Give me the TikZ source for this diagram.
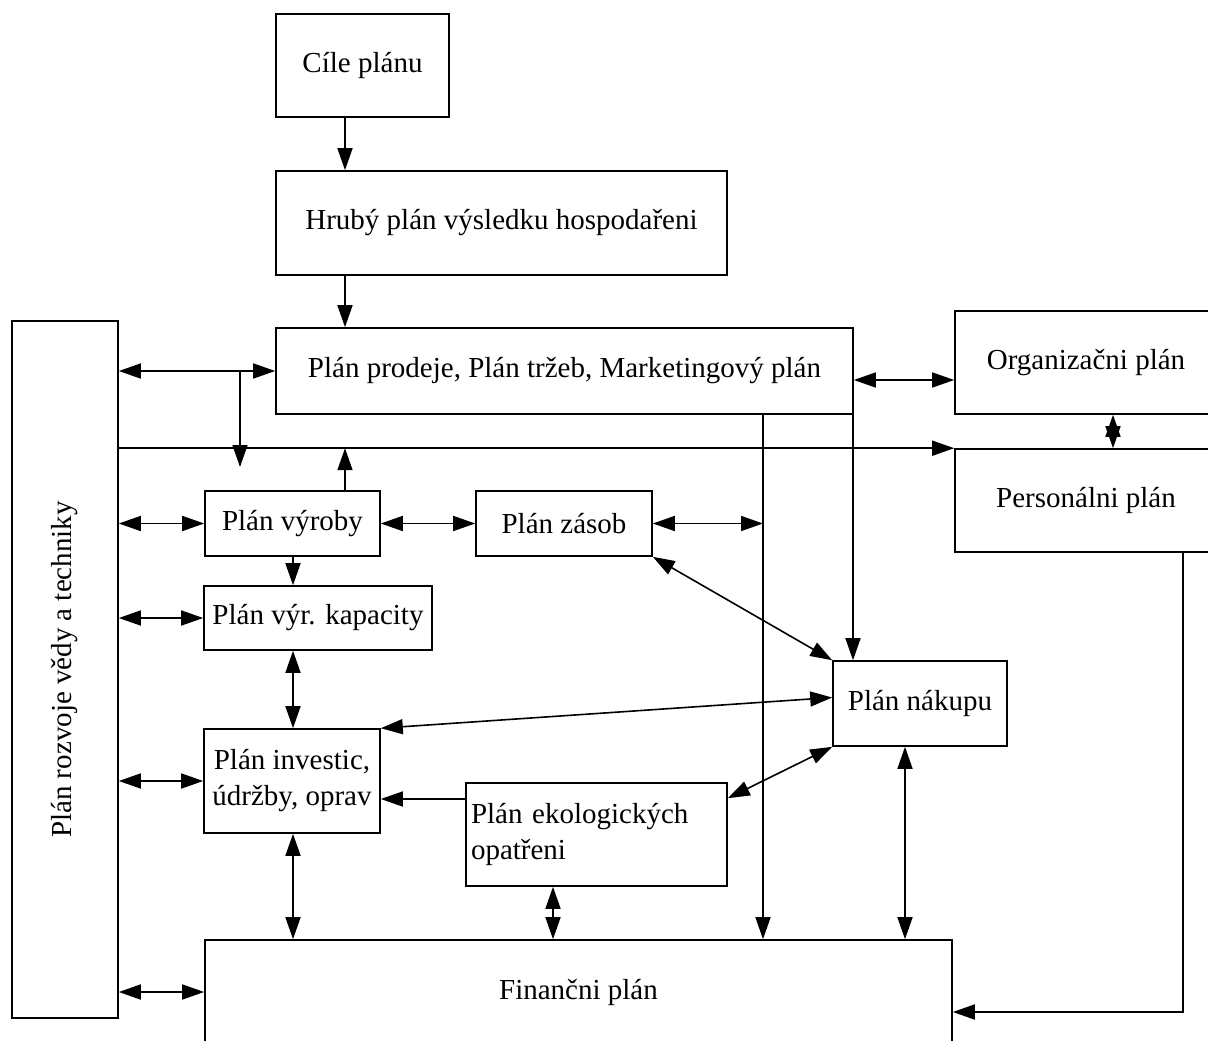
\documentclass[tikz,border=0pt]{standalone}
\usepackage{fontspec}
\setmainfont{Liberation Serif}
\usetikzlibrary{arrows.meta,calc}
\begin{document}
\begin{tikzpicture}[x=1pt,y=-1pt,
  box/.style={draw,line width=1.6pt,rectangle,inner sep=0pt,font=\fontsize{29}{36}\selectfont,align=center},
  conn/.style={line width=1.6pt},
  >={Triangle[length=22pt,width=15pt]}]
\fill[white] (0,0) rectangle (1208,1041);
\useasboundingbox (0,0) rectangle (1208,1041);
% nodes
\node[box,minimum width=173pt,minimum height=103pt] (cile) at (362.5,65.5) {Cíle plánu};
\node[box,minimum width=451pt,minimum height=104pt] (hruby) at (501.5,223) {Hrubý plán výsledku hospodařeni};
\node[box,minimum width=577pt,minimum height=86pt] (prodej) at (564.5,371) {Plán prodeje, Plán tržeb, Marketingový plán};
\node[box,minimum width=106pt,minimum height=697pt] (rozvoj) at (65,669.5) {};
\node[font=\fontsize{29}{36}\selectfont,rotate=90] (rozvojt) at (rozvoj.center) {Plán rozvoje vědy a techniky};
\node[box,minimum width=262pt,minimum height=103pt] (org) at (1086,362.5) {Organizačni plán};
\node[box,minimum width=262pt,minimum height=103pt] (pers) at (1086,500.5) {Personálni plán};
\node[box,minimum width=175pt,minimum height=65pt] (vyroby) at (292.5,523.5) {Plán výroby};
\node[box,minimum width=228pt,minimum height=64pt] (kap) at (318,618) {Plán výr. kapacity};
\node[box,minimum width=176pt,minimum height=104pt] (inv) at (292,781) {Plán investic,\\údržby, oprav};
\node[box,minimum width=176pt,minimum height=65pt] (zasob) at (564,523.5) {Plán zásob};
\node[box,minimum width=174pt,minimum height=85pt] (nakup) at (920,703.5) {Plán nákupu};
\node[box,minimum width=261pt,minimum height=103pt,text width=251pt,align=left] (eko) at (596.5,834.5) {Plán ekologických\\opatřeni};
\node[box,minimum width=747pt,minimum height=104pt] (fin) at (578.5,992) {Finančni plán};
% helper coordinates
\coordinate (xA) at (345,0);
\coordinate (xB) at (240,0);
\coordinate (xC) at (293,0);
\coordinate (xD) at (763,0);
\coordinate (xE) at (853,0);
\coordinate (xF) at (553,0);
\coordinate (xG) at (905,0);
\coordinate (xH) at (1113,0);
\coordinate (xI) at (1183,0);
\coordinate (yQ) at (0,380);
\coordinate (yR) at (0,799);
\coordinate (yS) at (0,1012);
\coordinate (bt) at (240,467);
\coordinate (ekoin) at ($(eko.north east)+(0,16)$);
% connectors
\draw[conn,->] (cile.south -| xA) -- (hruby.north -| xA);
\draw[conn,->] (hruby.south -| xA) -- (prodej.north -| xA);
\draw[conn,<->] (rozvoj.east |- prodej.west) -- (prodej.west);
\draw[conn,->] (xB |- prodej.west) -- (bt);
\draw[conn,->] (rozvoj.east |- pers.north west) -- (pers.north west);
\draw[conn,->] (vyroby.north -| xA) -- (xA |- pers.north west);
\draw[conn,<->] (prodej.east |- yQ) -- (org.west |- yQ);
\draw[conn,<->] (org.south -| xH) -- (pers.north -| xH);
\draw[conn,<->] (rozvoj.east |- vyroby.west) -- (vyroby.west);
\draw[conn,<->] (rozvoj.east |- kap.west) -- (kap.west);
\draw[conn,<->] (rozvoj.east |- inv.west) -- (inv.west);
\draw[conn,<->] (rozvoj.east |- fin.west) -- (fin.west);
\draw[conn,<->] (vyroby.east) -- (zasob.west);
\draw[conn,->] (vyroby.south -| xC) -- (kap.north -| xC);
\draw[conn,<->] (kap.south -| xC) -- (inv.north -| xC);
\draw[conn,<->] (inv.south -| xC) -- (fin.north -| xC);
\draw[conn,->] (prodej.south -| xD) -- (fin.north -| xD);
\draw[conn,<->] (zasob.east) -- (zasob.east -| xD);
\draw[conn,->] (prodej.south -| xE) -- (nakup.north -| xE);
\draw[conn,<->] (zasob.south east) -- (nakup.north west);
\draw[conn,<->] (inv.north east) -- ($(nakup.west)+(0,-6)$);
\draw[conn,<->] (nakup.south west) -- (ekoin);
\draw[conn,->] (eko.west |- yR) -- (inv.east |- yR);
\draw[conn,<->] (eko.south -| xF) -- (fin.north -| xF);
\draw[conn,<->] (nakup.south -| xG) -- (fin.north -| xG);
\draw[conn,->] (pers.south -| xI) |- (fin.east |- yS);
\end{tikzpicture}
\end{document}
